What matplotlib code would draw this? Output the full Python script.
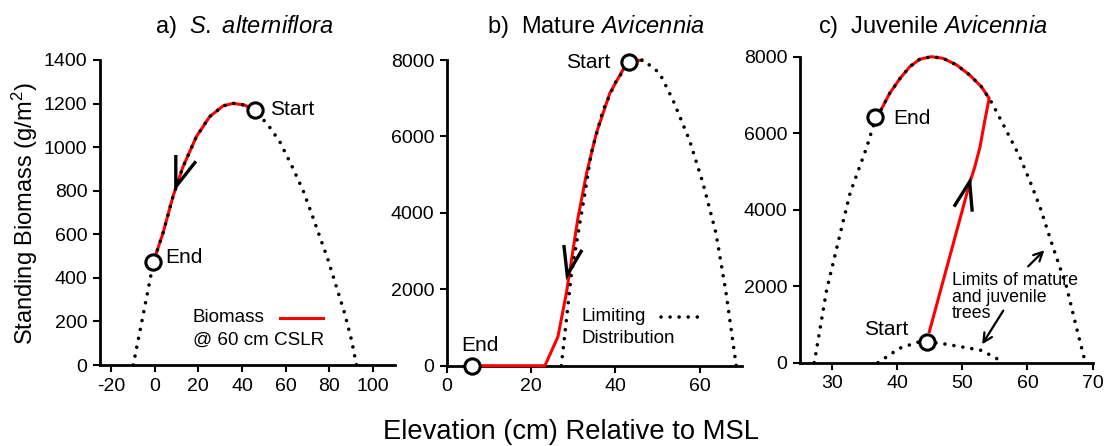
import matplotlib
matplotlib.use("Agg")
import matplotlib.pyplot as plt

plt.rcParams['font.family'] = ['Liberation Sans', 'DejaVu Sans']
plt.rcParams['mathtext.fontset'] = 'custom'
plt.rcParams['mathtext.rm'] = 'Liberation Sans'
plt.rcParams['mathtext.it'] = 'Liberation Sans:italic'

# ---------------- Panel a: S. alterniflora ----------------
a_limit_x = [-9.8, -5.4, -1.5, -0.8, 0.8, 3.8, 8.4, 13.0, 19.1, 25.2, 31.3, 35.9, 41.2, 45.8,
             51.9, 57.3, 62.6, 67.9, 71.8, 75.6, 79.4, 83.2, 87.0, 90.1, 92.4]
a_limit_y = [0, 222, 422, 474, 514, 604, 773, 910, 1048, 1140, 1189, 1201, 1193, 1170,
             1102, 1025, 918, 803, 696, 589, 482, 359, 237, 115, 0]
a_red_x = [0.8, 3.8, 8.4, 13.0, 19.1, 25.2, 31.3, 35.9, 41.2, 45.8]
a_red_y = [514, 604, 773, 910, 1048, 1140, 1189, 1201, 1193, 1170]
a_start = (45.8, 1170)
a_end = (-0.8, 474)
a_arrow_x = [9.7, 9.7, 18.9]
a_arrow_y = [964, 818, 935]
a_xticks = [-20, 0, 20, 40, 60, 80, 100]
a_yticks = [0, 200, 400, 600, 800, 1000, 1200, 1400]

# ---------------- Panel b: Mature Avicennia ----------------
b_limit_x = [27.2, 28.4, 29.6, 31.2, 32.8, 34.3, 37.1, 40.3, 43.4, 46.6, 50.5, 53.7, 57.6,
             60.8, 63.9, 66.3, 68.7]
b_limit_y = [0, 1196, 2425, 3470, 4520, 5565, 6690, 7477, 7920, 8000, 7660, 6950, 5907,
             4780, 3470, 1900, 0]
b_red_x = [5.9, 23.3, 26.4, 28.4, 29.6, 31.2, 33.2, 35.5, 38.7, 41.8, 43.2, 46.3]
b_red_y = [0, 0, 760, 1900, 2766, 3900, 5040, 6080, 7130, 7740, 7956, 8000]
b_start = (43.2, 7956)
b_end = (5.9, 0)
b_arrow_x = [27.8, 28.6, 32.1]
b_arrow_y = [3160, 2373, 3030]
b_xticks = [0, 20, 40, 60]
b_yticks = [0, 2000, 4000, 6000, 8000]

# ---------------- Panel c: Juvenile Avicennia ----------------
c_mature_x = [27.2, 29.1, 31.2, 32.7, 34.0, 35.3, 36.0, 36.7, 37.6, 38.8, 40.4, 41.9, 43.4,
              45.2, 47.0, 49.1, 51.1, 52.9, 54.1, 54.7, 56.7, 58.8, 60.3, 61.9, 63.9, 66.0,
              67.5, 68.9]
c_mature_y = [0, 1903, 3386, 4433, 5043, 5653, 6045, 6422, 6657, 7050, 7443, 7746, 7940,
              8008, 7966, 7791, 7529, 7223, 6919, 6744, 6090, 5391, 4781, 4083, 3036, 1989,
              942, 0]
c_juv_x = [37.0, 40.3, 43.4, 46.6, 49.7, 52.7, 54.8, 56.3]
c_juv_y = [0, 377, 550, 508, 419, 332, 157, 0]
c_red_x = [44.9, 51.1, 51.9, 52.7, 53.4, 54.1, 52.9, 51.1, 49.1, 47.0, 45.2, 43.4, 41.9, 40.4,
           38.8, 37.6]
c_red_y = [811, 4695, 5129, 5653, 6307, 6919, 7223, 7529, 7791, 7966, 8008, 7940, 7746, 7443,
           7050, 6657]
c_start = (44.6, 550)
c_end = (36.6, 6422)
c_arrow_x = [48.7, 51.1, 51.5]
c_arrow_y = [4083, 4737, 3952]
c_xticks = [30, 40, 50, 60, 70]
c_yticks = [0, 2000, 4000, 6000, 8000]

RED = '#ff0000'
fig = plt.figure(figsize=(11.06, 4.46), dpi=100)

axa = fig.add_axes([0.0904, 0.1816, 0.2667, 0.6839])
axb = fig.add_axes([0.4039, 0.1800, 0.2667, 0.6854])
axc = fig.add_axes([0.7233, 0.1868, 0.2645, 0.6854])

dot_kw = dict(color='black', lw=2.6, linestyle=(0, (0.01, 2.5)), dash_capstyle='round', zorder=4,
              clip_on=False)
red_kw = dict(color=RED, lw=2.2, zorder=3, clip_on=False, solid_joinstyle='round')
circ_kw = dict(marker='o', ms=11, mfc='white', mec='black', mew=2.2, zorder=6, clip_on=False,
               linestyle='none')
arr_kw = dict(color='black', lw=2.4, zorder=5, solid_capstyle='butt', solid_joinstyle='miter')

TXT = 15
LEG = 13.6

def style(ax, xlim, ylim, xt, yt):
    ax.set_xlim(*xlim)
    ax.set_ylim(*ylim)
    ax.set_xticks(xt)
    ax.set_yticks(yt)
    for s in ['top', 'right']:
        ax.spines[s].set_visible(False)
    for s in ['left', 'bottom']:
        ax.spines[s].set_linewidth(2.0)
    ax.tick_params(direction='out', length=5, width=1.5, labelsize=14, pad=4)
    ax.set_xticklabels([f'{t:g}' for t in xt])

# Panel a
style(axa, (-25, 110), (0, 1400), a_xticks, a_yticks)
axa.plot(a_red_x, a_red_y, **red_kw)
axa.plot(a_limit_x, a_limit_y, **dot_kw)
axa.plot(a_arrow_x, a_arrow_y, **arr_kw)
axa.plot(*a_start, **circ_kw)
axa.plot(*a_end, **circ_kw)
axa.text(52.7, 1174, 'Start', fontsize=TXT, va='center', ha='left')
axa.text(5.0, 494, 'End', fontsize=TXT, va='center', ha='left')
axa.text(17.5, 216, 'Biomass', fontsize=LEG, va='center', ha='left')
axa.text(17.5, 115, '@ 60 cm CSLR', fontsize=LEG, va='center', ha='left')
axa.plot([57.3, 77.0], [216, 216], color=RED, lw=2.2)

# Panel b
style(axb, (0, 70), (0, 8000), b_xticks, b_yticks)
axb.plot(b_red_x, b_red_y, **red_kw)
axb.plot(b_limit_x, b_limit_y, **dot_kw)
axb.plot(b_arrow_x, b_arrow_y, **arr_kw)
axb.plot(*b_start, **circ_kw)
axb.plot(*b_end, **circ_kw)
axb.text(38.8, 7940, 'Start', fontsize=TXT, va='center', ha='right')
axb.text(8.0, 542, 'End', fontsize=TXT, va='center', ha='center')
axb.text(32.1, 1282, 'Limiting', fontsize=LEG, va='center', ha='left')
axb.text(32.1, 725, 'Distribution', fontsize=LEG, va='center', ha='left')
axb.plot([50.9, 60.4], [1282, 1282], **dot_kw)

# Panel c
style(axc, (25, 70), (0, 8000), c_xticks, c_yticks)
axc.plot(c_red_x, c_red_y, **red_kw)
axc.plot(c_mature_x, c_mature_y, **dot_kw)
axc.plot(c_juv_x, c_juv_y, **dot_kw)
axc.plot(c_arrow_x, c_arrow_y, **arr_kw)
axc.plot(*c_start, **circ_kw)
axc.plot(*c_end, **circ_kw)
axc.text(41.6, 856, 'Start', fontsize=TXT, va='center', ha='right')
axc.text(39.4, 6395, 'End', fontsize=TXT, va='center', ha='left')
axc.text(48.4, 1711, 'Limits of mature\nand juvenile\ntrees', fontsize=12.8, va='center',
         ha='left', linespacing=0.95)
axc.annotate('', xy=(52.8, 419), xytext=(56.5, 1424),
             arrowprops=dict(arrowstyle='->', lw=1.6, color='black', mutation_scale=16))
axc.annotate('', xy=(62.9, 2994), xytext=(59.8, 2470),
             arrowprops=dict(arrowstyle='->', lw=1.6, color='black', mutation_scale=16))

# Titles
fig.text(0.2206, 0.926, r'a)  $\mathit{S.\ alterniflora}$', fontsize=17, ha='center', va='baseline')
fig.text(0.539, 0.926, r'b)  Mature $\mathit{Avicennia}$', fontsize=17, ha='center', va='baseline')
fig.text(0.843, 0.926, r'c)  Juvenile $\mathit{Avicennia}$', fontsize=17, ha='center', va='baseline')

fig.text(0.0226, 0.52, r'Standing Biomass (g/m$^2$)', fontsize=17, rotation=90,
         ha='center', va='center')
fig.text(0.516, 0.031, 'Elevation (cm) Relative to MSL', fontsize=19.7, ha='center', va='center')

fig.savefig('out.png', dpi=100)
